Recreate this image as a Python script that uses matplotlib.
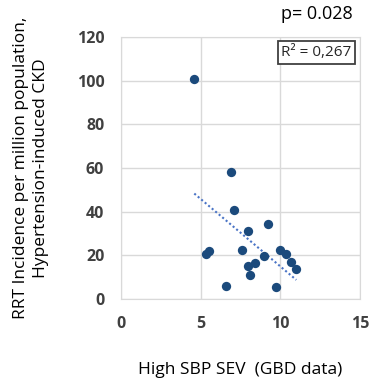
import numpy as np
import matplotlib
matplotlib.use('Agg')
from matplotlib import pyplot as plt

plt.rcParams['font.family'] = ['Open Sans', 'DejaVu Sans']

# High SBP SEV (GBD) vs RRT incidence, hypertension-induced CKD
sev = [4.6, 6.9, 7.1, 9.2, 7.95, 5.35, 5.55, 7.6, 8.0, 8.4, 8.1,
       9.0, 10.0, 10.35, 10.65, 11.0, 6.6, 9.7]
rrt = [100.8, 58.0, 40.8, 34.5, 31.3, 20.8, 22.1, 22.3, 15.3, 16.3, 11.1,
       19.5, 22.6, 20.8, 17.1, 13.7, 6.1, 5.3]
xticks = [0, 5, 10, 15]
yticks = [0, 20, 40, 60, 80, 100, 120]
r2_text = 'R² = 0,267'
p_text = 'p= 0.028'

sev = np.array(sev)
rrt = np.array(rrt)

fig = plt.figure(figsize=(3.7, 3.84), dpi=100)
ax = fig.add_axes([0.327, 0.2214, 0.646, 0.6822])

ax.grid(True, color='#d9d9d9', linewidth=1)
ax.set_axisbelow(True)
for s in ax.spines.values():
    s.set_color('#d9d9d9')

ax.scatter(sev, rrt, s=45, color='#1b4a7c', zorder=3, linewidths=0)

# linear trend line
k, b = np.polyfit(sev, rrt, 1)
xs = np.array([sev.min(), sev.max()])
ax.plot(xs, k * xs + b, linestyle=(0, (1, 1.2)), color='#4a74c6', linewidth=1.5, zorder=2)

ax.set_xlim(0, 15)
ax.set_ylim(0, 120)
ax.set_xticks(xticks)
ax.set_yticks(yticks)
ax.tick_params(length=0, labelsize=11.5, labelcolor='#404040')
ax.tick_params(axis='x', pad=12)
ax.tick_params(axis='y', pad=12)
for lab in ax.get_xticklabels() + ax.get_yticklabels():
    lab.set_fontweight('bold')

ax.text(0.965, 0.94, r2_text, transform=ax.transAxes, ha='right', va='center',
        fontsize=11, color='#262626',
        bbox=dict(boxstyle='square,pad=0.25', facecolor='white', edgecolor='#404040', linewidth=1.3))

fig.text(0.952, 0.963, p_text, ha='right', va='center', fontsize=13, color='black')

ax.set_xlabel('High SBP SEV  (GBD data)', fontsize=12.5, labelpad=22)
ax.set_ylabel('RRT Incidence per million population,\nHypertension-induced CKD', fontsize=12.5,
              labelpad=20, linespacing=1.35)

fig.savefig('out.png', dpi=100)
